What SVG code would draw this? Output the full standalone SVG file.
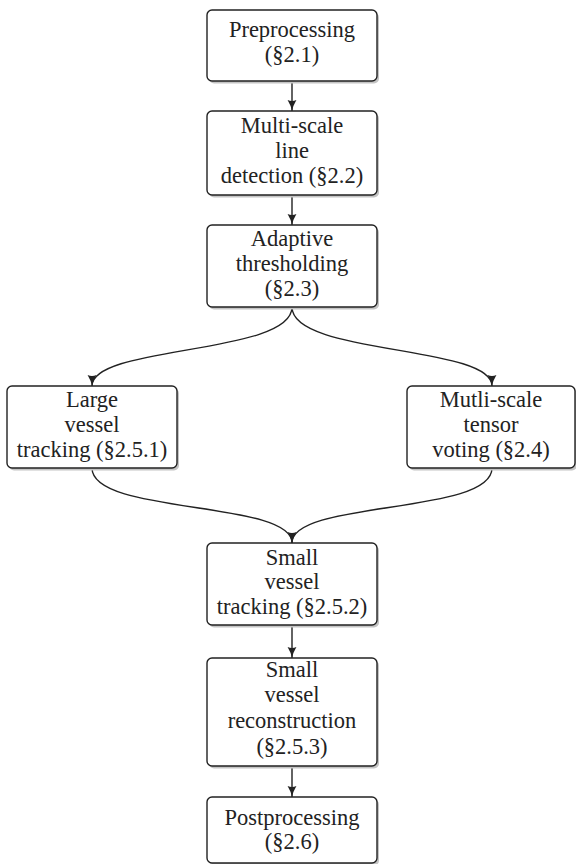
<svg xmlns="http://www.w3.org/2000/svg" width="576" height="864" viewBox="0 0 576 864">
<defs>
<style>
.shadow{fill:#c4c4c4;stroke:none}
.box{fill:#fff;stroke:#222;stroke-width:1.4}
.t{font-family:"Liberation Serif","Times New Roman",serif;font-size:22.5px;fill:#222;text-anchor:middle}
.c{fill:none;stroke:#222;stroke-width:1.4}
</style>
<marker id="ah" viewBox="0 0 10 10" refX="10" refY="5" markerWidth="11" markerHeight="11" markerUnits="userSpaceOnUse" orient="auto">
<path d="M0,1 Q5,4 10,5 Q5,6 0,9 Q2,5 0,1 Z" fill="#222"/>
</marker>
</defs>
<rect width="576" height="864" fill="#fff"/>
<g id="connectors">
<line class="c" x1="292" y1="81" x2="292" y2="111" marker-end="url(#ah)"/>
<line class="c" x1="292" y1="195" x2="292" y2="225" marker-end="url(#ah)"/>
<path class="c" d="M292,307 C292,355 92,345 92,386" marker-end="url(#ah)"/>
<path class="c" d="M292,307 C292,355 492,345 492,386" marker-end="url(#ah)"/>
<path class="c" d="M92,468 C92,515 292,500 292,543" marker-end="url(#ah)"/>
<path class="c" d="M492,468 C492,515 292,500 292,543"/>
<line class="c" x1="292" y1="625" x2="292" y2="658" marker-end="url(#ah)"/>
<line class="c" x1="292" y1="766" x2="292" y2="797" marker-end="url(#ah)"/>
</g>
<g id="preprocessing">
<rect class="shadow" x="209" y="12.5" width="170" height="71" rx="5"/>
<rect class="box" x="207" y="10" width="170" height="71" rx="5"/>
<text class="t" x="292" y="37">Preprocessing</text>
<text class="t" x="292" y="62">(§2.1)</text>
</g>
<g id="line-detection">
<rect class="shadow" x="209" y="113.5" width="170" height="84" rx="5"/>
<rect class="box" x="207" y="111" width="170" height="84" rx="5"/>
<text class="t" x="292" y="133">Multi-scale</text>
<text class="t" x="292" y="158">line</text>
<text class="t" x="292" y="183">detection (§2.2)</text>
</g>
<g id="adaptive-thresholding">
<rect class="shadow" x="209" y="227.5" width="170" height="82" rx="5"/>
<rect class="box" x="207" y="225" width="170" height="82" rx="5"/>
<text class="t" x="292" y="246">Adaptive</text>
<text class="t" x="292" y="271">thresholding</text>
<text class="t" x="292" y="296">(§2.3)</text>
</g>
<g id="large-vessel-tracking">
<rect class="shadow" x="9" y="388.5" width="170" height="82" rx="5"/>
<rect class="box" x="7" y="386" width="170" height="82" rx="5"/>
<text class="t" x="92" y="407">Large</text>
<text class="t" x="92" y="432">vessel</text>
<text class="t" x="92" y="457">tracking (§2.5.1)</text>
</g>
<g id="tensor-voting">
<rect class="shadow" x="409" y="388.5" width="168" height="82" rx="5"/>
<rect class="box" x="407" y="386" width="168" height="82" rx="5"/>
<text class="t" x="491" y="407">Mutli-scale</text>
<text class="t" x="491" y="432">tensor</text>
<text class="t" x="491" y="457">voting (§2.4)</text>
</g>
<g id="small-vessel-tracking">
<rect class="shadow" x="209" y="545.5" width="170" height="82" rx="5"/>
<rect class="box" x="207" y="543" width="170" height="82" rx="5"/>
<text class="t" x="292" y="565">Small</text>
<text class="t" x="292" y="589">vessel</text>
<text class="t" x="292" y="614">tracking (§2.5.2)</text>
</g>
<g id="small-vessel-reconstruction">
<rect class="shadow" x="209" y="660.5" width="170" height="108" rx="5"/>
<rect class="box" x="207" y="658" width="170" height="108" rx="5"/>
<text class="t" x="292" y="677">Small</text>
<text class="t" x="292" y="702">vessel</text>
<text class="t" x="292" y="728">reconstruction</text>
<text class="t" x="292" y="754">(§2.5.3)</text>
</g>
<g id="postprocessing">
<rect class="shadow" x="209" y="799.5" width="170" height="66" rx="5"/>
<rect class="box" x="207" y="797" width="170" height="66" rx="5"/>
<text class="t" x="292" y="825">Postprocessing</text>
<text class="t" x="292" y="849">(§2.6)</text>
</g>
</svg>
